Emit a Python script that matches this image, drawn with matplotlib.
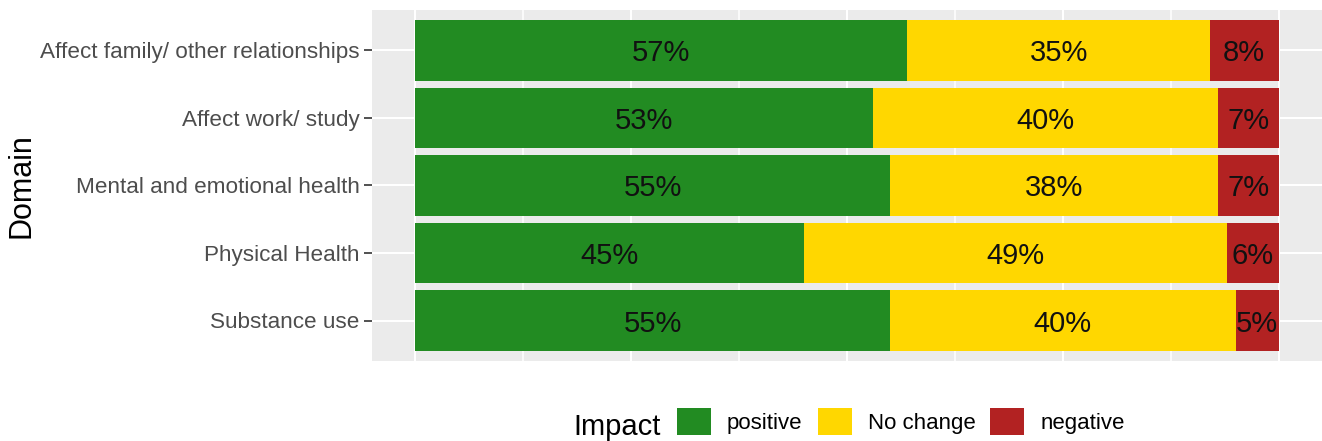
import numpy as np
import matplotlib
matplotlib.use("Agg")
import matplotlib.pyplot as plt
from matplotlib.patches import Patch

plt.rcParams['font.family'] = ['Liberation Sans', 'DejaVu Sans']

# dane: odsetki odpowiedzi dla każdej domeny (od góry do dołu)
domeny = ['Affect family/ other relationships', 'Affect work/ study',
          'Mental and emotional health', 'Physical Health', 'Substance use']
pozytywne = [57, 53, 55, 45, 55]
bez_zmian = [35, 40, 38, 49, 40]
negatywne = [8, 7, 7, 6, 5]

etykiety_wplywu = ['positive', 'No change', 'negative']
kolory = ['#228B22', '#FFD700', '#B22222']

fig = plt.figure(figsize=(13.22, 4.41), dpi=100)
ax = fig.add_axes([372 / 1322, 1 - 361 / 441, 950 / 1322, 351 / 441])
ax.set_facecolor('#EBEBEB')

y = np.arange(len(domeny))[::-1]
lewo = np.zeros(len(domeny))
for wartosci, kolor in zip([pozytywne, bez_zmian, negatywne], kolory):
    wartosci = np.array(wartosci, dtype=float)
    ax.barh(y, wartosci, left=lewo, height=0.9, color=kolor, zorder=3)
    for yy, l, w in zip(y, lewo, wartosci):
        ax.text(l + w / 2, yy, f'{int(w)}%', ha='center', va='center_baseline',
                fontsize=21, color='#111111', zorder=4)
    lewo += wartosci

ax.set_xlim(-5, 105)
ax.set_ylim(-0.6, len(domeny) - 0.4)

# siatka w stylu ggplot
for xv in [0, 25, 50, 75, 100]:
    ax.axvline(xv, color='white', lw=1.5, zorder=1)
for xv in [12.5, 37.5, 62.5, 87.5]:
    ax.axvline(xv, color='white', lw=1.1, zorder=1)
for yy in y:
    ax.axhline(yy, color='white', lw=1.5, zorder=1)

ax.set_yticks(y)
ax.set_yticklabels(domeny, fontsize=16.2, color='#4D4D4D')
ax.tick_params(axis='y', length=6, width=1.2, color='#333333', pad=3)
ax.set_xticks([])
for s in ax.spines.values():
    s.set_visible(False)

fig.text(22 / 1322, 1 - 185.5 / 441, 'Domain', rotation=90, ha='center',
         va='center', fontsize=22)

# legenda na dole
fig.text(573 / 1322, 1 - 435 / 441, 'Impact', ha='left', va='baseline',
         fontsize=21)
uchwyty = [Patch(facecolor=k, edgecolor='none') for k in kolory]
fig.legend(uchwyty, etykiety_wplywu, loc='center left',
           bbox_to_anchor=(677 / 1322, 1 - 421.5 / 441), ncol=3,
           frameon=False, fontsize=16, handlelength=1.53, handleheight=1.49,
           handletextpad=0.72, columnspacing=0.68, borderpad=0,
           borderaxespad=0)

fig.savefig('out.png', dpi=100)
